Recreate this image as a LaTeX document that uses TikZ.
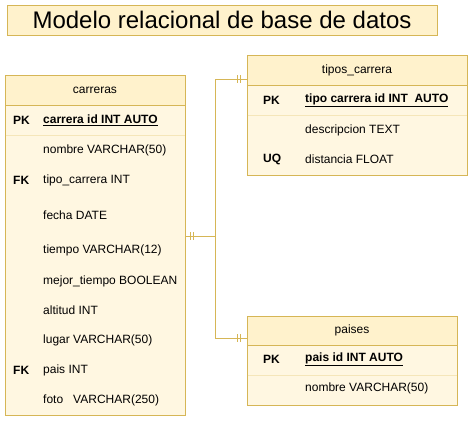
\documentclass[tikz,border=0pt]{standalone}
\usepackage{fontspec}
\setmainfont{Liberation Sans}
\usepackage{tikz}
\definecolor{hd}{RGB}{255, 242, 204}
\definecolor{bd}{RGB}{255, 247, 225}
\definecolor{ln}{RGB}{214, 182, 86}
\definecolor{sp}{RGB}{245, 230, 185}
\usetikzlibrary{positioning}

\begin{document}
\begin{tikzpicture}
				[x=1pt, y=-1pt, every node/.style={inner sep=0pt},
				 head/.style={rectangle, fill=hd, draw=ln, line width=1pt, font=\fontsize{12}{14}\selectfont},
				 body/.style={rectangle, fill=bd, draw=ln, line width=1pt},
				 key/.style={anchor=west, font=\fontsize{12}{14}\selectfont\bfseries},
				 field/.style={anchor=west, font=\fontsize{12}{14}\selectfont},
				 rel/.style={line width=1pt, color=ln},
				 sepline/.style={line width=0.8pt, color=sp}]
				\useasboundingbox (0,0) rectangle (474,421);
				% title
				\node (title) [rectangle, minimum width=430pt, minimum height=30pt, fill=hd, draw=ln, line width=1pt, font=\fontsize{24}{28}\selectfont] at (222, 20) {Modelo relacional de base de datos};
				% carreras
				\node (carbody) [body, minimum width=180pt, minimum height=310pt] at (95, 260) {};
				\node (carhead) [head, minimum width=180pt, minimum height=30pt] at (95, 90) {carreras};
				\draw [sepline] (5.5, 135) to (184.5, 135);
				\node (carpk) [key] at (13, 120) {PK};
				\node (carid) [field, font=\fontsize{12}{14}\selectfont\bfseries] at (43, 120) {\underline{carrera id INT AUTO}};
				\node (carnom) [field] at (43, 150) {nombre VARCHAR(50)};
				\node (carfk1) [key] at (13, 180) {FK};
				\node (cartipo) [field] at (43, 180) {tipo\_carrera INT};
				\node (carfecha) [field] at (43, 215) {fecha DATE};
				\node (cartiempo) [field] at (43, 250) {tiempo VARCHAR(12)};
				\node (carmejor) [field] at (43, 281) {mejor\_tiempo BOOLEAN};
				\node (caralt) [field] at (43, 310) {altitud INT};
				\node (carlugar) [field] at (43, 340) {lugar VARCHAR(50)};
				\node (carfk2) [key] at (13, 370) {FK};
				\node (carpais) [field] at (43, 370) {pais INT};
				\node (carfoto) [field] at (43, 400) {foto\ \ \ VARCHAR(250)};
				% tipos_carrera
				\node (tipbody) [body, minimum width=220pt, minimum height=90pt] at (357, 130) {};
				\node (tiphead) [head, minimum width=220pt, minimum height=30pt] at (357, 70) {tipos\_carrera};
				\draw [sepline] (247.5, 115) to (466.5, 115);
				\node (tippk) [key] at (263, 100) {PK};
				\node (tipid) [field, font=\fontsize{12}{14}\selectfont\bfseries] at (305, 100) {\underline{tipo carrera id INT\ \ AUTO}};
				\node (tipdesc) [field] at (305, 130) {descripcion TEXT};
				\node (tipuq) [key] at (263, 159) {UQ};
				\node (tipdist) [field] at (305, 159) {distancia FLOAT};
				% paises
				\node (paibody) [body, minimum width=210pt, minimum height=60pt] at (352, 375) {};
				\node (paihead) [head, minimum width=210pt, minimum height=29pt] at (352, 330.5) {paises};
				\draw [sepline] (247.5, 375) to (456.5, 375);
				\node (paipk) [key] at (263, 359) {PK};
				\node (paiid) [field, font=\fontsize{12}{14}\selectfont\bfseries] at (305, 359) {\underline{pais id INT AUTO}};
				\node (painom) [field] at (305, 388) {nombre VARCHAR(50)};
				% relations
				\coordinate (carout) at (carbody.east |- 0, 236);
				\coordinate (tipin) at (tiphead.west |- 0, 79);
				\coordinate (paiin) at (paihead.west |- 0, 338);
				\coordinate (bend) at (215, 236);
				\draw [rel] (carout) to (bend) |- (tipin);
				\draw [rel] (bend) |- (paiin);
				\draw [rel] ([xshift=5pt]carout) ++(0,-4) to ++(0,8);
				\draw [rel] ([xshift=8pt]carout) ++(0,-4) to ++(0,8);
				\draw [rel] ([xshift=-6pt]tipin) ++(0,-4) to ++(0,8);
				\draw [rel] ([xshift=-9pt]tipin) ++(0,-4) to ++(0,8);
				\draw [rel] ([xshift=-6pt]paiin) ++(0,-4) to ++(0,8);
				\draw [rel] ([xshift=-9pt]paiin) ++(0,-4) to ++(0,8);
		\end{tikzpicture}
\end{document}
